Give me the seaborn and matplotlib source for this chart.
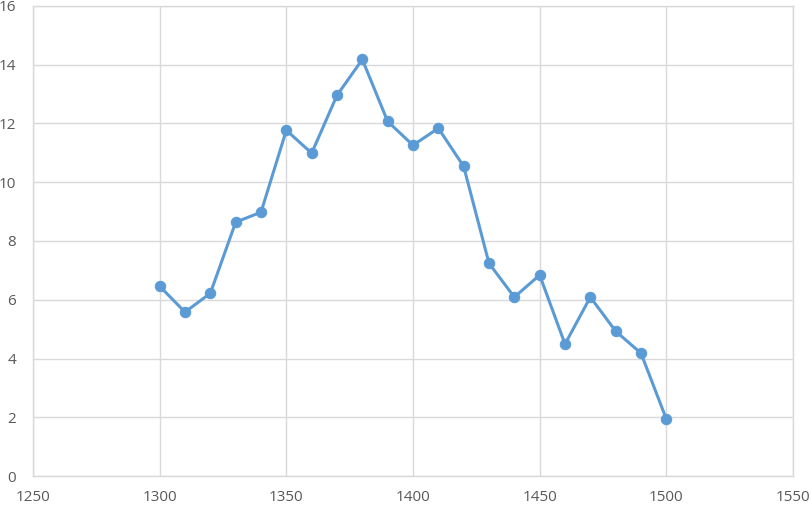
import matplotlib
matplotlib.use("Agg")
import matplotlib.pyplot as plt
import seaborn as sns
import pandas as pd

years = [1300, 1310, 1320, 1330, 1340, 1350, 1360, 1370, 1380, 1390, 1400,
         1410, 1420, 1430, 1440, 1450, 1460, 1470, 1480, 1490, 1500]
values = [6.46, 5.58, 6.22, 8.64, 8.98, 11.77, 10.99, 12.96, 14.18, 12.07, 11.26,
          11.84, 10.54, 7.24, 6.09, 6.84, 4.49, 6.09, 4.93, 4.18, 1.94]
x_ticks = [1250, 1300, 1350, 1400, 1450, 1500, 1550]
y_ticks = [0, 2, 4, 6, 8, 10, 12, 14, 16]

sns.set_theme(style="white")
plt.rcParams['font.family'] = ['Open Sans', 'DejaVu Sans']

df = pd.DataFrame({"year": years, "value": values})

fig = plt.figure(figsize=(8.11, 5.05), dpi=100)
ax = fig.add_axes([33/811, 29/505, 760/811, 470/505])

sns.lineplot(data=df, x="year", y="value", ax=ax, color="#5B9BD5",
             linewidth=2.2, marker="o", markersize=7.5,
             markeredgecolor="#5B9BD5", zorder=3)

ax.set_xlim(1250, 1550)
ax.set_ylim(0, 16)
ax.set_xticks(x_ticks)
ax.set_yticks(y_ticks)
ax.set_xlabel("")
ax.set_ylabel("")
ax.grid(True, color="#D9D9D9", linewidth=1.0)
ax.set_axisbelow(True)
for s in ax.spines.values():
    s.set_color("#D9D9D9")
    s.set_linewidth(1.0)
ax.tick_params(axis="both", length=0, labelsize=11, labelcolor="#595959")
ax.tick_params(axis="y", pad=12)
ax.tick_params(axis="x", pad=10)

fig.savefig("out.png", dpi=100)
